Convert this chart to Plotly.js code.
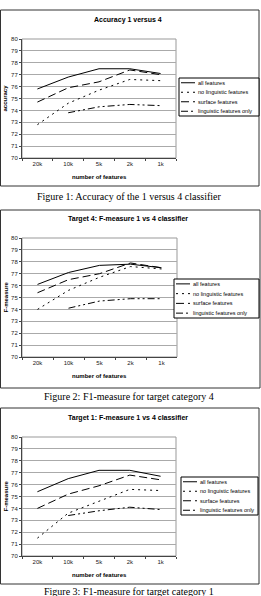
<!DOCTYPE html>
<html>
<head>
<meta charset="utf-8">
<script src="https://cdn.plot.ly/plotly-3.0.1.min.js"></script>
<style>
html,body{margin:0;padding:0;background:#fff;}
#chart{width:261px;height:596px;}
</style>
</head>
<body>
<div id="chart"></div>
<script>
// ---- data ----
const categories = ["20k", "10k", "5k", "2k", "1k"];
const seriesNames = ["all features", "no linguistic features", "surface features", "linguistic features only"];

const acc_all      = [75.8, 76.8, 77.5, 77.5, 77.1];
const acc_noling   = [72.8, 74.6, 75.7, 76.6, 76.5];
const acc_surface  = [74.7, 75.9, 76.4, 77.4, 77.0];
const acc_lingonly = [null, 73.8, 74.3, 74.5, 74.4];

const t4_all      = [76.1, 77.1, 77.7, 77.8, 77.5];
const t4_noling   = [74.0, 75.6, 76.7, 77.6, 77.4];
const t4_surface  = [75.4, 76.5, 77.0, 77.9, 77.5];
const t4_lingonly = [null, 74.1, 74.7, 74.9, 74.9];

const t1_all      = [75.4, 76.5, 77.2, 77.2, 76.7];
const t1_noling   = [71.5, 73.6, 74.6, 75.6, 75.5];
const t1_surface  = [74.0, 75.2, 75.9, 76.8, 76.4];
const t1_lingonly = [null, 73.4, 73.8, 74.1, 73.9];

const chartTitles = ["Accuracy 1 versus 4", "Target 4: F-measure 1 vs 4 classifier", "Target 1: F-measure 1 vs 4 classifier"];
const yTitles = ["accuracy", "F-measure", "F-measure"];
const xTitle = "number of features";
const captions = ["Figure 1: Accuracy of the 1 versus 4 classifier",
                  "Figure 2: F1-measure for target category 4",
                  "Figure 3: F1-measure for target category 1"];
const yTickVals = [70, 71, 72, 73, 74, 75, 76, 77, 78, 79, 80];

// ---- layout geometry (pixels) ----
const W = 261, H = 596;
const px = v => v / W;
const py = v => 1 - v / H;
const charts = [
  {series: [acc_all, acc_noling, acc_surface, acc_lingonly],
   frame: [0, 10, 259, 186], plot: [22, 39, 176, 158], title: 20, caption: 196,
   legend: [179, 78, 259, 116]},
  {series: [t4_all, t4_noling, t4_surface, t4_lingonly],
   frame: [0, 210, 260, 388], plot: [22, 238, 177, 357], title: 219, caption: 396,
   legend: [174, 279, 259, 318]},
  {series: [t1_all, t1_noling, t1_surface, t1_lingonly],
   frame: [0, 408, 259, 584], plot: [22, 437, 176, 556], title: 418, caption: 591,
   legend: [181, 477, 258, 515]}
];
const dashes = ["solid", "2px,4px", "8px,4px", "7px,3px,2px,3px,2px,3px"];
const FONT = "Liberation Sans, Arial, sans-serif";

const traces = [];
const layout = {
  width: W, height: H,
  margin: {l: 0, r: 0, t: 0, b: 0},
  paper_bgcolor: "#fff", plot_bgcolor: "#fff",
  showlegend: false,
  font: {family: FONT, size: 6, color: "#000"},
  shapes: [], annotations: []
};

charts.forEach((c, i) => {
  const n = i === 0 ? "" : String(i + 1);
  const xa = "xaxis" + n, ya = "yaxis" + n;
  c.series.forEach((vals, k) => {
    traces.push({
      type: "scatter", mode: "lines",
      x: categories, y: vals, name: seriesNames[k],
      xaxis: "x" + n, yaxis: "y" + n,
      line: {color: "#000", width: 1, dash: dashes[k]},
      connectgaps: false, hoverinfo: "skip"
    });
  });
  const [pl, pt, pr, pb] = c.plot;
  layout[xa] = {
    domain: [px(pl), px(pr)], anchor: "y" + n,
    type: "category", range: [-0.5, 4.5],
    showgrid: false, zeroline: false,
    showline: true, linecolor: "#444", linewidth: 1,
    ticks: "outside", tickson: "boundaries", ticklen: 2, tickcolor: "#444",
    tickfont: {size: 6, color: "#222"}, fixedrange: true
  };
  layout[ya] = {
    domain: [py(pb), py(pt)], anchor: "x" + n,
    range: [70, 80], tickvals: yTickVals,
    showgrid: true, gridcolor: "#aaa", gridwidth: 1, zeroline: false,
    showline: true, linecolor: "#444", linewidth: 1,
    ticks: "outside", ticklen: 2, tickcolor: "#444",
    tickfont: {size: 6, color: "#222"}, fixedrange: true
  };
  // plot area border
  layout.shapes.push({type: "rect", xref: "paper", yref: "paper",
    x0: px(pl), x1: px(pr), y0: py(pb), y1: py(pt),
    line: {color: "#999", width: 1}, layer: "below"});
  // frame
  const [fl, ft, fr, fb] = c.frame;
  layout.shapes.push({type: "rect", xref: "paper", yref: "paper",
    x0: px(fl + 0.5), x1: px(fr), y0: py(fb), y1: py(ft),
    line: {color: "#333", width: 1}});
  // title
  layout.annotations.push({text: "<b>" + chartTitles[i] + "</b>", xref: "paper", yref: "paper",
    x: px(128), y: py(c.title), showarrow: false, xanchor: "center", yanchor: "middle",
    font: {size: 7, family: FONT}});
  // axis titles
  layout.annotations.push({text: "<b>" + yTitles[i] + "</b>", xref: "paper", yref: "paper",
    x: px(5), y: py((pt + pb) / 2), showarrow: false, textangle: -90,
    xanchor: "center", yanchor: "middle", font: {size: 6, family: FONT}});
  layout.annotations.push({text: "<b>" + xTitle + "</b>", xref: "paper", yref: "paper",
    x: px((pl + pr) / 2), y: py(pb + 19), showarrow: false,
    xanchor: "center", yanchor: "middle", font: {size: 6, family: FONT}});
  // caption
  layout.annotations.push({text: captions[i], xref: "paper", yref: "paper",
    x: px(129), y: py(c.caption), showarrow: false, xanchor: "center", yanchor: "middle",
    font: {size: 10, family: "Liberation Serif, Times New Roman, serif", color: "#000"}});
  // legend (drawn manually: compact Excel-style)
  const [ll, lt, lr, lb] = c.legend;
  layout.shapes.push({type: "rect", xref: "paper", yref: "paper",
    x0: px(ll), x1: px(lr), y0: py(lb), y1: py(lt),
    line: {color: "#000", width: 1}, fillcolor: "#fff"});
  const rowH = (lb - lt) / 4;
  seriesNames.forEach((name, k) => {
    const yy = lt + rowH * (k + 0.5);
    layout.shapes.push({type: "line", xref: "paper", yref: "paper",
      x0: px(ll + 2), x1: px(ll + 16), y0: py(yy), y1: py(yy),
      line: {color: "#000", width: 1, dash: dashes[k]}});
    layout.annotations.push({text: name, xref: "paper", yref: "paper",
      x: px(ll + 17), y: py(yy), showarrow: false, xanchor: "left", yanchor: "middle",
      font: {size: 5.5, family: FONT}});
  });
});

Plotly.newPlot("chart", traces, layout, {staticPlot: true, displayModeBar: false});
</script>
</body>
</html>
